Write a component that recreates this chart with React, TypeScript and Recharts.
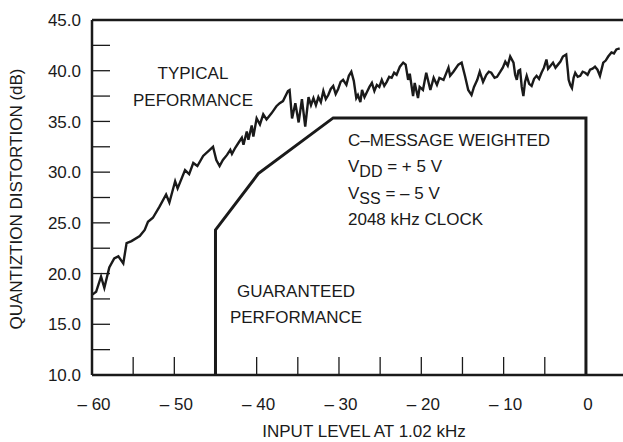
import { LineChart, Line, XAxis, YAxis, ReferenceLine } from "recharts";

const INK = "#1a1a1a";
const FONT = '"Liberation Sans", Arial, Helvetica, sans-serif';

// typical performance trace: input level (dB) and distortion (dB), 10 per row
const typicalLevel = [
  -60.0, -59.5, -58.9, -58.5, -57.9, -57.3, -56.8, -56.2, -55.8, -55.2,
  -54.2, -53.6, -53.2, -52.6, -51.8, -51.0, -50.6, -49.9, -49.6, -48.7,
  -48.2, -47.7, -47.2, -46.5, -45.7, -45.3, -44.9, -44.5, -44.1, -43.6,
  -43.2, -43.0, -42.6, -42.2, -41.8, -41.6, -41.2, -41.0, -40.6, -40.4,
  -40.0, -39.6, -39.2, -38.8, -38.2, -37.6, -37.2, -36.8, -36.2, -36.0,
  -35.7, -35.3, -34.9, -34.5, -34.1, -33.7, -33.4, -33.1, -32.8, -32.5,
  -32.2, -31.9, -31.6, -31.3, -31.0, -30.7, -30.4, -30.1, -29.8, -29.5,
  -29.1, -28.8, -28.5, -28.2, -27.9, -27.7, -27.4, -27.2, -26.9, -26.6,
  -26.3, -26.0, -25.7, -25.4, -25.1, -24.8, -24.5, -24.2, -23.9, -23.6,
  -23.3, -23.0, -22.6, -22.2, -21.9, -21.6, -21.4, -21.0, -20.8, -20.4,
  -20.2, -19.8, -19.4, -18.9, -18.5, -18.1, -17.8, -17.3, -16.7, -16.5,
  -16.1, -15.5, -15.1, -14.7, -14.3, -13.9, -13.6, -13.2, -12.9, -12.5,
  -12.1, -11.8, -11.5, -11.1, -10.8, -10.4, -10.1, -9.8, -9.5, -9.2,
  -8.8, -8.6, -8.4, -8.2, -8.0, -7.8, -7.6, -7.4, -7.2, -6.9,
  -6.6, -6.3, -6.0, -5.7, -5.4, -5.1, -4.8, -4.6, -4.4, -4.0,
  -3.7, -3.4, -3.1, -2.8, -2.4, -2.2, -2.1, -1.9, -1.7, -1.5,
  -1.3, -1.0, -0.7, -0.4, -0.1, 0.2, 0.5, 0.8, 1.1, 1.4,
  1.7, 2.1, 2.4, 2.7, 3.1, 3.4, 3.7, 4.1,
];
const typicalDist = [
  17.9, 18.2, 19.7, 18.6, 20.6, 21.5, 21.7, 21.0, 23.0, 23.2,
  23.7, 24.3, 25.1, 25.5, 26.6, 27.8, 27.0, 29.1, 28.4, 30.2,
  29.8, 30.9, 30.6, 31.6, 32.2, 32.5, 31.2, 30.6, 31.2, 31.7,
  32.2, 31.8, 32.4, 32.9, 33.4, 32.7, 34.0, 33.2, 34.6, 33.5,
  35.3, 34.7, 35.7, 35.2, 35.8, 36.5, 36.8, 37.0, 38.0, 38.1,
  35.3, 36.8, 34.9, 37.2, 34.5, 37.4, 36.6, 37.3, 36.6, 37.4,
  36.9, 38.0, 37.2, 37.6, 38.2, 38.5, 37.7, 38.2, 38.9, 39.1,
  38.6, 39.5, 39.9, 39.0, 37.3, 37.6, 36.9, 38.1, 37.4, 37.9,
  38.4, 38.8, 38.0, 38.6, 38.4, 39.1, 38.5, 38.9, 39.4, 39.3,
  39.8, 39.6, 40.4, 40.8, 40.6, 39.1, 39.7, 37.5, 38.8, 37.3,
  38.4, 38.1, 39.8, 38.1, 39.3, 38.6, 39.3, 39.1, 40.3, 39.5,
  39.9, 40.6, 40.8, 39.5, 38.1, 37.6, 38.4, 39.1, 39.9, 38.9,
  39.6, 39.9, 39.8, 39.3, 39.4, 39.9, 40.3, 40.9, 40.5, 41.4,
  40.8, 39.6, 39.1, 40.0, 40.1, 38.4, 37.5, 38.9, 39.5, 38.7,
  38.5, 39.2, 39.5, 39.2, 39.8, 40.3, 41.1, 40.2, 40.4, 40.8,
  40.3, 40.6, 40.9, 41.4, 41.6, 40.0, 39.1, 38.6, 38.3, 39.3,
  39.8, 39.4, 39.5, 39.9, 39.8, 39.6, 40.1, 40.2, 40.4, 40.1,
  39.5, 40.8, 41.0, 41.4, 41.8, 41.7, 42.1, 42.2,
];

// guaranteed performance boundary
const guaranteedLevel = [-45, -45, -39.8, -30.7, 0, 0];
const guaranteedDist = [10, 24.3, 29.85, 35.35, 35.35, 10];

const xTicks = [-60, -55, -50, -45, -40, -35, -30, -25, -20, -15, -10, -5, 0];
const yTicks = [10, 12.5, 15, 17.5, 20, 22.5, 25, 27.5, 30, 32.5, 35, 37.5, 40, 42.5, 45];

const typical = typicalLevel.map((x, i) => ({ x, y: typicalDist[i] }));
const guaranteed = guaranteedLevel.map((x, i) => ({ x, y: guaranteedDist[i] }));

const TICK_LEN = 18;

function YTick(props: any) {
  const { x, y, payload } = props;
  const v = payload.value as number;
  return (
    <g>
      <line x1={x} y1={y} x2={x + TICK_LEN} y2={y} stroke={INK} strokeWidth={1.3} />
      {v % 5 === 0 && (
        <text x={x - 11} y={y} dy="0.36em" textAnchor="end" fontSize={17} fill={INK} fontFamily={FONT}>
          {v.toFixed(1)}
        </text>
      )}
    </g>
  );
}

function XTick(props: any) {
  const { x, y, payload } = props;
  const v = payload.value as number;
  return (
    <g>
      <line x1={x} y1={y} x2={x} y2={y - TICK_LEN} stroke={INK} strokeWidth={1.3} />
      {v % 10 === 0 && (
        <text x={x + 2} y={y + 35} textAnchor="middle" fontSize={17} fill={INK} fontFamily={FONT}>
          {v === 0 ? "0" : `– ${Math.abs(v)}`}
        </text>
      )}
    </g>
  );
}

const txt = { fontSize: 17, fill: INK, fontFamily: FONT } as const;

export default function App() {
  return (
    <div style={{ position: "absolute", left: 0, top: 0, background: "#fff" }}>
      <LineChart
        width={623}
        height={442}
        margin={{ top: 20, right: 0, bottom: 0, left: 0 }}
        style={{ fontFamily: FONT }}
      >
        <XAxis
          type="number"
          dataKey="x"
          domain={[-60, 4.5]}
          ticks={xTicks}
          interval={0}
          allowDataOverflow
          height={67}
          tickSize={0}
          tickMargin={0}
          tickLine={false}
          axisLine={{ stroke: INK, strokeWidth: 2.5 }}
          tick={<XTick />}
        />
        <YAxis
          type="number"
          dataKey="y"
          domain={[10, 45]}
          ticks={yTicks}
          interval={0}
          allowDataOverflow
          width={92}
          tickSize={0}
          tickMargin={0}
          tickLine={false}
          axisLine={{ stroke: INK, strokeWidth: 2.5 }}
          tick={<YTick />}
        />
        <ReferenceLine y={45} stroke={INK} strokeWidth={2.5} />
        <Line
          data={typical}
          dataKey="y"
          type="linear"
          stroke={INK}
          strokeWidth={2.4}
          dot={false}
          isAnimationActive={false}
        />
        <Line
          data={guaranteed}
          dataKey="y"
          type="linear"
          stroke={INK}
          strokeWidth={3}
          strokeLinejoin="miter"
          dot={false}
          isAnimationActive={false}
        />
        <text x={193} y={79} textAnchor="middle" {...txt}>TYPICAL</text>
        <text x={193} y={106} textAnchor="middle" {...txt}>PEFORMANCE</text>
        <text x={348} y={146} {...txt}>C–MESSAGE WEIGHTED</text>
        <text x={348} y={172} {...txt}>
          V<tspan dy={5} fontSize={16}>DD</tspan>
          <tspan dy={-5}> = + 5 V</tspan>
        </text>
        <text x={348} y={199} {...txt}>
          V<tspan dy={5} fontSize={16}>SS</tspan>
          <tspan dy={-5}> = – 5 V</tspan>
        </text>
        <text x={348} y={225} {...txt}>2048 kHz CLOCK</text>
        <text x={296} y={297} textAnchor="middle" {...txt}>GUARANTEED</text>
        <text x={296} y={323} textAnchor="middle" {...txt}>PERFORMANCE</text>
        <text x={364} y={437} textAnchor="middle" {...txt}>INPUT LEVEL AT 1.02 kHz</text>
        <text
          x={0}
          y={0}
          textAnchor="middle"
          transform="translate(22 199) rotate(-90)"
          {...txt}
        >
          QUANTIZTION DISTORTION (dB)
        </text>
      </LineChart>
    </div>
  );
}
